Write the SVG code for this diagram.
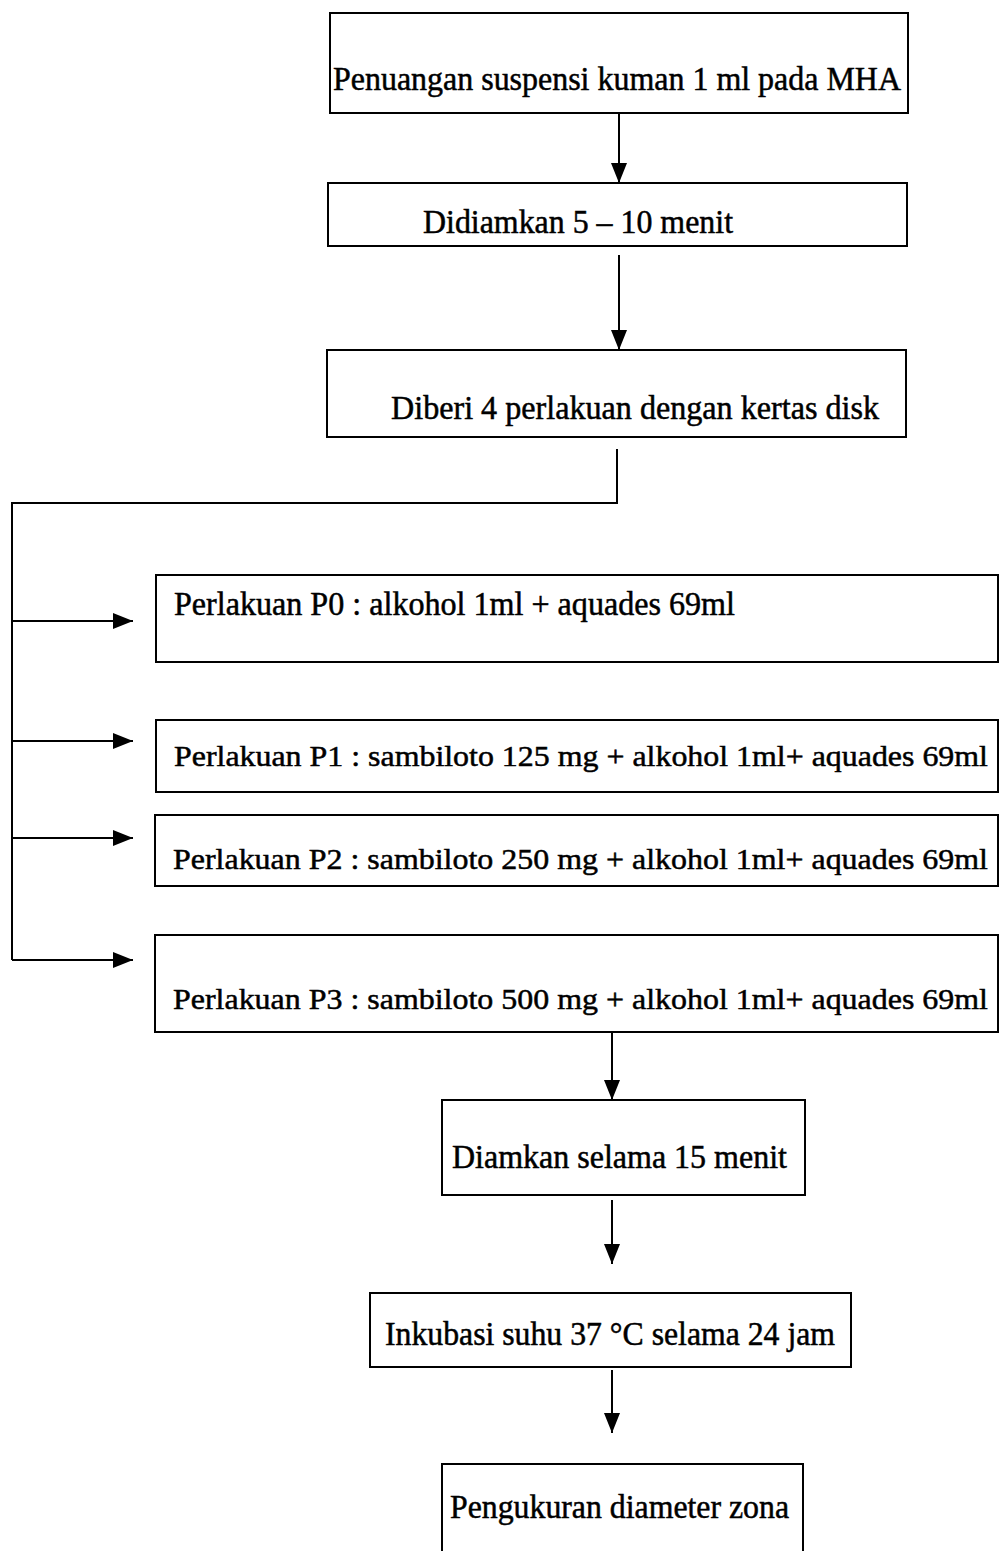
<svg xmlns="http://www.w3.org/2000/svg" width="999" height="1551" viewBox="0 0 999 1551">
<style>
.box{fill:#fff;stroke:#000;stroke-width:2}
.t{font-family:"Liberation Serif","Times New Roman",serif;font-size:33px;fill:#000;stroke:#000;stroke-width:0.5}
.s{font-size:30px}
.c{fill:none;stroke:#000;stroke-width:2}
</style>
<defs>
<marker id="ah" markerUnits="userSpaceOnUse" markerWidth="22" markerHeight="16" refX="20" refY="8" orient="auto">
<polygon points="0,0 20,8 0,16" fill="#000"/>
</marker>
</defs>
<rect width="999" height="1551" fill="#fff"/>
<g id="connectors">
<line class="c" x1="619" y1="113" x2="619" y2="183" marker-end="url(#ah)"/>
<line class="c" x1="619" y1="255" x2="619" y2="350" marker-end="url(#ah)"/>
<polyline class="c" points="617,449 617,503 12,503 12,960"/>
<line class="c" x1="12" y1="621" x2="133" y2="621" marker-end="url(#ah)"/>
<line class="c" x1="12" y1="741" x2="133" y2="741" marker-end="url(#ah)"/>
<line class="c" x1="12" y1="838" x2="133" y2="838" marker-end="url(#ah)"/>
<line class="c" x1="12" y1="960" x2="133" y2="960" marker-end="url(#ah)"/>
<line class="c" x1="612" y1="1032" x2="612" y2="1100" marker-end="url(#ah)"/>
<line class="c" x1="612" y1="1200" x2="612" y2="1264" marker-end="url(#ah)"/>
<line class="c" x1="612" y1="1370" x2="612" y2="1433" marker-end="url(#ah)"/>
</g>
<g id="n1">
<rect class="box" x="330" y="13" width="578" height="100"/>
<text class="t" x="333" y="90" textLength="568" lengthAdjust="spacingAndGlyphs">Penuangan suspensi kuman 1 ml pada MHA</text>
</g>
<g id="n2">
<rect class="box" x="328" y="183" width="579" height="63"/>
<text class="t" x="423" y="233" textLength="310" lengthAdjust="spacingAndGlyphs">Didiamkan 5 – 10 menit</text>
</g>
<g id="n3">
<rect class="box" x="327" y="350" width="579" height="87"/>
<text class="t" x="391" y="419" textLength="488" lengthAdjust="spacingAndGlyphs">Diberi 4 perlakuan dengan kertas disk</text>
</g>
<g id="p0">
<rect class="box" x="156" y="575" width="842" height="87"/>
<text class="t" x="174" y="615" textLength="561" lengthAdjust="spacingAndGlyphs">Perlakuan P0 : alkohol 1ml + aquades 69ml</text>
</g>
<g id="p1">
<rect class="box" x="156" y="720" width="842" height="72"/>
<text class="t s" x="174" y="766" textLength="814" lengthAdjust="spacingAndGlyphs">Perlakuan P1 : sambiloto 125 mg + alkohol 1ml+ aquades 69ml</text>
</g>
<g id="p2">
<rect class="box" x="155" y="815" width="843" height="71"/>
<text class="t s" x="173" y="869" textLength="815" lengthAdjust="spacingAndGlyphs">Perlakuan P2 : sambiloto 250 mg + alkohol 1ml+ aquades 69ml</text>
</g>
<g id="p3">
<rect class="box" x="155" y="935" width="843" height="97"/>
<text class="t s" x="173" y="1009" textLength="815" lengthAdjust="spacingAndGlyphs">Perlakuan P3 : sambiloto 500 mg + alkohol 1ml+ aquades 69ml</text>
</g>
<g id="n4">
<rect class="box" x="442" y="1100" width="363" height="95"/>
<text class="t" x="452" y="1168" textLength="335" lengthAdjust="spacingAndGlyphs">Diamkan selama 15 menit</text>
</g>
<g id="n5">
<rect class="box" x="370" y="1293" width="481" height="74"/>
<text class="t" x="385" y="1345" textLength="450" lengthAdjust="spacingAndGlyphs">Inkubasi suhu 37 °C selama 24 jam</text>
</g>
<g id="n6">
<rect class="box" x="442" y="1464" width="361" height="100"/>
<text class="t" x="450" y="1518" textLength="339" lengthAdjust="spacingAndGlyphs">Pengukuran diameter zona</text>
</g>
</svg>
